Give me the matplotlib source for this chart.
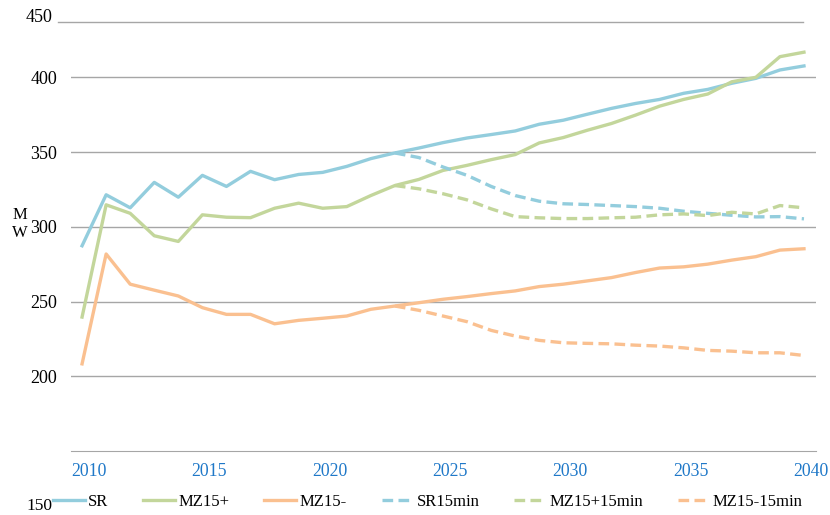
import numpy as np
import matplotlib
matplotlib.use("Agg")
from matplotlib import pyplot as plt
from matplotlib.lines import Line2D
import matplotlib.transforms as mtransforms

plt.rcParams['font.family'] = ['Liberation Serif', 'DejaVu Serif']

years = list(range(2010, 2041))
years_15 = list(range(2023, 2041))

sr = [287.3, 321.4, 312.7, 329.7, 319.8, 334.4, 327.0, 337.1, 331.5, 335.0, 336.4,
      340.4, 345.6, 349.4, 352.7, 356.3, 359.4, 361.7, 364.1, 368.6, 371.3,
      375.3, 379.2, 382.5, 385.2, 389.3, 391.9, 396.0, 399.3, 404.9, 407.6]
mz_plus = [239.6, 314.7, 309.0, 294.0, 290.2, 308.0, 306.4, 306.1, 312.4, 315.8, 312.4,
           313.5, 320.9, 327.6, 331.7, 337.7, 341.1, 344.9, 348.3, 356.1, 359.7,
           364.6, 369.1, 374.7, 380.7, 385.2, 388.8, 397.0, 400.0, 413.8, 416.8]
mz_minus = [208.3, 281.8, 261.6, 257.6, 253.7, 245.9, 241.4, 241.4, 235.1, 237.4, 238.8,
            240.3, 244.8, 247.0, 249.2, 251.5, 253.3, 255.3, 257.1, 260.0, 261.6,
            263.8, 266.0, 269.4, 272.4, 273.2, 275.0, 277.7, 280.0, 284.4, 285.3]

sr_15 = [349.4, 346.3, 340.0, 334.4, 327.0, 320.9, 317.1, 315.4, 314.9, 314.2, 313.5,
         312.4, 310.4, 309.0, 307.7, 306.6, 306.8, 305.3]
mz_plus_15 = [327.6, 325.4, 322.1, 318.0, 312.0, 306.8, 306.0, 305.5, 305.5, 306.0, 306.4,
              308.0, 308.6, 307.5, 309.7, 308.6, 314.2, 312.7]
mz_minus_15 = [247.0, 244.1, 240.3, 236.5, 230.7, 226.9, 224.0, 222.4, 222.0, 221.7, 220.8,
               220.2, 219.0, 217.3, 216.8, 215.7, 215.7, 213.9]

blue, green, orange = '#93CDDD', '#C3D69B', '#FAC090'
lw = 2.4
dash = (3.2, 1.6)

fig = plt.figure(figsize=(8.3, 5.15), dpi=100)
ax = fig.add_axes([71 / 830, 1 - 451 / 515, (816 - 71) / 830, (451 - 21.7) / 515])

ax.plot(years, sr, color=blue, lw=lw, label='SR')
ax.plot(years, mz_plus, color=green, lw=lw, label='MZ15+')
ax.plot(years, mz_minus, color=orange, lw=lw, label='MZ15-')
ax.plot(years_15, sr_15, color=blue, lw=lw, dashes=dash, label='SR15min')
ax.plot(years_15, mz_plus_15, color=green, lw=lw, dashes=dash, label='MZ15+15min')
ax.plot(years_15, mz_minus_15, color=orange, lw=lw, dashes=dash, label='MZ15-15min')

ax.set_xlim(2009.54, 2040.5)
ax.set_ylim(150, 437.2)
ax.set_yticks([200, 250, 300, 350, 400])
ax.set_xticks([2010, 2015, 2020, 2025, 2030, 2035, 2040])
ax.grid(axis='y', color='#A6A6A6', lw=1)
ax.set_axisbelow(True)
for s in ['top', 'left', 'right']:
    ax.spines[s].set_visible(False)
ax.spines['bottom'].set_color('#A6A6A6')
ax.tick_params(length=0)
ax.tick_params(axis='y', labelsize=13, pad=10)
ax.tick_params(axis='x', labelsize=12.8, pad=9, labelcolor='#1F78C8')
off = mtransforms.ScaledTranslation(7 / 100, 0, fig.dpi_scale_trans)
for lab in ax.get_xticklabels():
    lab.set_transform(lab.get_transform() + off)

# top line and displaced 450 / 150 labels
fig.add_artist(Line2D([58 / 830, 803 / 830], [1 - 21.7 / 515] * 2, color='#A6A6A6', lw=1))
fig.text(52 / 830, 1 - 17.5 / 515, '450', ha='right', va='center', fontsize=13)
fig.text(52 / 830, 1 - 506 / 515, '150', ha='right', va='center', fontsize=12.5)
fig.text(20 / 830, 1 - 224 / 515, 'M\nW', ha='center', va='center', fontsize=12,
         linespacing=1.2)

fig.legend(loc='center left', bbox_to_anchor=(53 / 830, 1 - 502 / 515), ncol=6,
           frameon=False, fontsize=12, handlelength=1.92, handletextpad=0.18,
           columnspacing=2.1, borderpad=0, borderaxespad=0)

fig.savefig('out.png', dpi=100)
